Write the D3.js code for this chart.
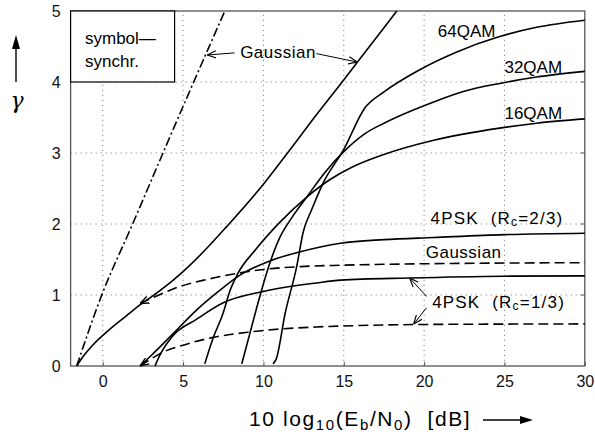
<!DOCTYPE html>
<html><head><meta charset="utf-8">
<script src="https://cdn.jsdelivr.net/npm/d3@7"></script>
<style>
html,body{margin:0;padding:0;background:#fff;}
svg{display:block;font-family:"Liberation Sans",Arial,sans-serif;}
text{white-space:pre;}
</style></head>
<body>
<svg id="c" width="595" height="434"></svg>
<script>
// ---- data ----
const xTicks = [0, 5, 10, 15, 20, 25, 30];
const yTicks = [0, 1, 2, 3, 4, 5];
const xGrid = [0, 5, 10, 15, 20, 25];
const yGrid = [1, 2, 3, 4];

// symbol-synchronized Gaussian (dash-dot)
const symGauss = [[-1.62,0],[-0.06,1],[1.86,2],[3.75,3],[5.66,4],[7.6,5]];
// QAM Gaussian (solid)
const qamGauss = [[-1.62,0],[-1.2,0.14],[-0.6,0.3],[0.45,0.52],[1.49,0.71],[2.32,0.86],[3.5,1.05],[5.0,1.33],[6.4,1.64],[7.7,1.96],[10.0,2.56],[11.5,3.0],[13.0,3.45],[14.9,4.0],[16.6,4.5],[18.3,5.0]];
// 4PSK Gaussian (dashed)
const pskGauss = [[2.32,0.88],[3.5,1.0],[4.8,1.12],[6.5,1.22],[8.5,1.31],[10.0,1.36],[12.3,1.40],[15,1.42],[20,1.44],[25,1.45],[30,1.455]];
// 4PSK Rc=1/3 Gaussian (dashed)
const psk13Gauss = [[2.32,0],[3.0,0.1],[4.0,0.22],[4.8,0.28],[6.8,0.40],[9.2,0.48],[11,0.52],[13.3,0.55],[16,0.57],[20,0.585],[25,0.59],[30,0.593]];
// 4PSK Rc=2/3 (solid)
const psk23 = [[2.32,0],[3.05,0.155],[4.4,0.46],[5.85,0.79],[7.2,1.05],[8.54,1.28],[10.4,1.48],[12.3,1.61],[14.8,1.73],[17.5,1.78],[20.6,1.81],[25,1.85],[30,1.87]];
// 4PSK Rc=1/3 (solid)
const psk13 = [[3.25,0],[3.57,0.16],[4.3,0.41],[5.85,0.66],[7.5,0.89],[10.0,1.05],[13.3,1.17],[14.8,1.21],[19.1,1.24],[25,1.265],[30,1.27]];
// QAM curves (solid)
const qam16 = [[6.35,0.03],[6.88,0.4],[7.5,0.75],[7.9,1.05],[8.4,1.3],[9.48,1.63],[11,2.02],[12.7,2.38],[14.1,2.62],[15.5,2.8],[17.5,2.98],[20.6,3.18],[24.7,3.35],[27,3.42],[30,3.48]];
const qam32 = [[8.65,0.03],[9.17,0.47],[9.8,1.0],[10.4,1.45],[11.0,1.8],[11.8,2.1],[12.7,2.38],[13.8,2.72],[15,3.02],[16.3,3.27],[17.5,3.42],[20.6,3.72],[22.5,3.87],[24.7,3.98],[27,4.07],[30,4.15]];
const qam64 = [[10.6,0.03],[10.8,0.1],[11.35,0.74],[12.07,1.40],[12.48,1.89],[13.0,2.2],[13.7,2.57],[15.0,3.05],[16.3,3.63],[17.5,3.86],[19.7,4.17],[22,4.42],[24.7,4.64],[27,4.77],[30,4.87]];

// ---- drawing ----
const svg = d3.select("#c");
const x = d3.scaleLinear().domain([-2, 30]).range([70.6, 584.8]);
const y = d3.scaleLinear().domain([0, 5]).range([366, 11]);

const defs = svg.append("defs");
defs.append("marker").attr("id","arr").attr("viewBox","0 0 10 10").attr("refX",10).attr("refY",5)
  .attr("markerWidth",9).attr("markerHeight",9).attr("markerUnits","userSpaceOnUse").attr("orient","auto")
  .append("path").attr("d","M0,1 L10,5 L0,9").attr("fill","none").attr("stroke","#000").attr("stroke-width",1.3);
defs.append("marker").attr("id","arrS").attr("viewBox","0 0 10 10").attr("refX",0).attr("refY",5)
  .attr("markerWidth",9).attr("markerHeight",9).attr("markerUnits","userSpaceOnUse").attr("orient","auto")
  .append("path").attr("d","M10,1 L0,5 L10,9").attr("fill","none").attr("stroke","#000").attr("stroke-width",1.5);

// grid
svg.append("g").selectAll("line").data(xGrid).join("line")
  .attr("x1",d=>x(d)).attr("x2",d=>x(d)).attr("y1",y(0)).attr("y2",y(5))
  .attr("stroke","#888").attr("stroke-width",1).attr("stroke-dasharray","1.2,3.8");
svg.append("g").selectAll("line").data(yGrid).join("line")
  .attr("y1",d=>y(d)).attr("y2",d=>y(d)).attr("x1",x(-2)).attr("x2",x(30))
  .attr("stroke","#888").attr("stroke-width",1).attr("stroke-dasharray","1.2,3.8");

// frame
svg.append("rect").attr("x",x(-2)).attr("y",y(5)).attr("width",x(30)-x(-2)).attr("height",y(0)-y(5))
  .attr("fill","none").attr("stroke","#555").attr("stroke-width",1.3);

// axes (inward ticks)
const xAx = svg.append("g").attr("transform",`translate(0,${y(0)})`)
  .call(d3.axisBottom(x).tickValues(xTicks).tickSize(-4).tickPadding(10).tickFormat(d3.format("d")));
const yAx = svg.append("g").attr("transform",`translate(${x(-2)},0)`)
  .call(d3.axisLeft(y).tickValues(yTicks).tickSize(0).tickPadding(10).tickFormat(d3.format("d")));
[xAx,yAx].forEach(a=>{
  a.select(".domain").remove();
  a.selectAll("line").attr("stroke","#555");
  a.selectAll("text").attr("font-size",16).attr("fill","#111").attr("font-family","Liberation Sans, Arial, sans-serif");
});
yAx.selectAll("text").attr("dy","0.36em");
// right-side inward ticks
svg.append("g").selectAll("line").data(yGrid).join("line")
  .attr("x1",x(30)).attr("x2",x(30)-4).attr("y1",d=>y(d)).attr("y2",d=>y(d)).attr("stroke","#555");

// curves
const line = d3.line().x(d=>x(d[0])).y(d=>y(d[1])).curve(d3.curveMonotoneX);
const lw = 1.6;
function draw(data, dash, extra) {
  const p = svg.append("path").datum(data).attr("d", line)
    .attr("fill","none").attr("stroke","#000").attr("stroke-width",lw)
    .attr("stroke-linejoin","round");
  if (dash) p.attr("stroke-dasharray", dash);
  if (extra) extra(p);
  return p;
}
draw(symGauss, "9,3,2,3");
draw(qamGauss);
draw(pskGauss, "10,5", p=>p.attr("marker-start","url(#arrS)"));
draw(psk13Gauss, "10,5", p=>p.attr("marker-start","url(#arrS)"));
draw(psk23);
draw(psk13);
draw(qam16);
draw(qam32);
draw(qam64);

// labels
const lab = (t, px, py, size, ls) => svg.append("text").attr("x",px).attr("y",py)
  .attr("font-size",size||17).attr("letter-spacing",ls||0).attr("fill","#000").attr("dominant-baseline","central").text(t);
lab("64QAM", x(20.85), y(4.71));
lab("32QAM", x(25.0), y(4.21));
lab("16QAM", x(25.0), y(3.56));
function pskLabel(px, py, rc){
  const t = svg.append("text").attr("x",px).attr("y",py).attr("font-size",17)
    .attr("letter-spacing",1.2).attr("dominant-baseline","central");
  t.append("tspan").text("4PSK  (R");
  t.append("tspan").attr("font-size",12).attr("dy",4).text("c");
  t.append("tspan").attr("dy",-4).text("=" + rc + ")");
}
pskLabel(x(20.4), y(2.09), "2/3");
pskLabel(x(20.5), y(0.9), "1/3");
lab("Gaussian", x(20.1), y(1.6), 17, 0.5);
lab("Gaussian", x(8.55), y(4.41), 17, 0.5);

// annotation arrows
function arrow(x1,y1,x2,y2){
  svg.append("line").attr("x1",x(x1)).attr("y1",y(y1)).attr("x2",x(x2)).attr("y2",y(y2))
    .attr("stroke","#000").attr("stroke-width",1).attr("marker-end","url(#arr)");
}
arrow(8.2, 4.41, 6.5, 4.38);
arrow(13.3, 4.4, 15.85, 4.28);
arrow(20.15, 0.98, 19.1, 1.24);
arrow(20.15, 0.82, 19.35, 0.59);

// legend box
svg.append("rect").attr("x",x(-2)).attr("y",y(5)).attr("width",104).attr("height",y(4)-y(5))
  .attr("fill","#fff").attr("stroke","#000").attr("stroke-width",1.2);
lab("symbol—", 85, 38);
lab("synchr.", 85, 61);

// x axis title
const xt = svg.append("text").attr("x",249).attr("y",426).attr("font-size",21).attr("letter-spacing",1.6).attr("fill","#000");
xt.append("tspan").text("10 log");
xt.append("tspan").attr("font-size",15).attr("dy",4).text("10");
xt.append("tspan").attr("dy",-4).text("(E");
xt.append("tspan").attr("font-size",15).attr("dy",4).text("b");
xt.append("tspan").attr("dy",-4).text("/N");
xt.append("tspan").attr("font-size",15).attr("dy",4).text("0");
xt.append("tspan").attr("dy",-4).text(")  [dB]");
svg.append("line").attr("x1",483).attr("x2",522).attr("y1",420).attr("y2",420).attr("stroke","#000").attr("stroke-width",1.4);
svg.append("path").attr("d","M520,416 L533,420 L520,424 Z").attr("fill","#000");

// y axis label
svg.append("line").attr("x1",16).attr("x2",16).attr("y1",82).attr("y2",47).attr("stroke","#000").attr("stroke-width",1.4);
svg.append("path").attr("d","M12,49 L16,35 L20,49 Z").attr("fill","#000");
svg.append("text").attr("x",17).attr("y",100).attr("text-anchor","middle").attr("dominant-baseline","central")
  .attr("font-size",22).attr("font-style","italic").attr("font-family","DejaVu Serif, serif").text("γ");
</script>
</body></html>
